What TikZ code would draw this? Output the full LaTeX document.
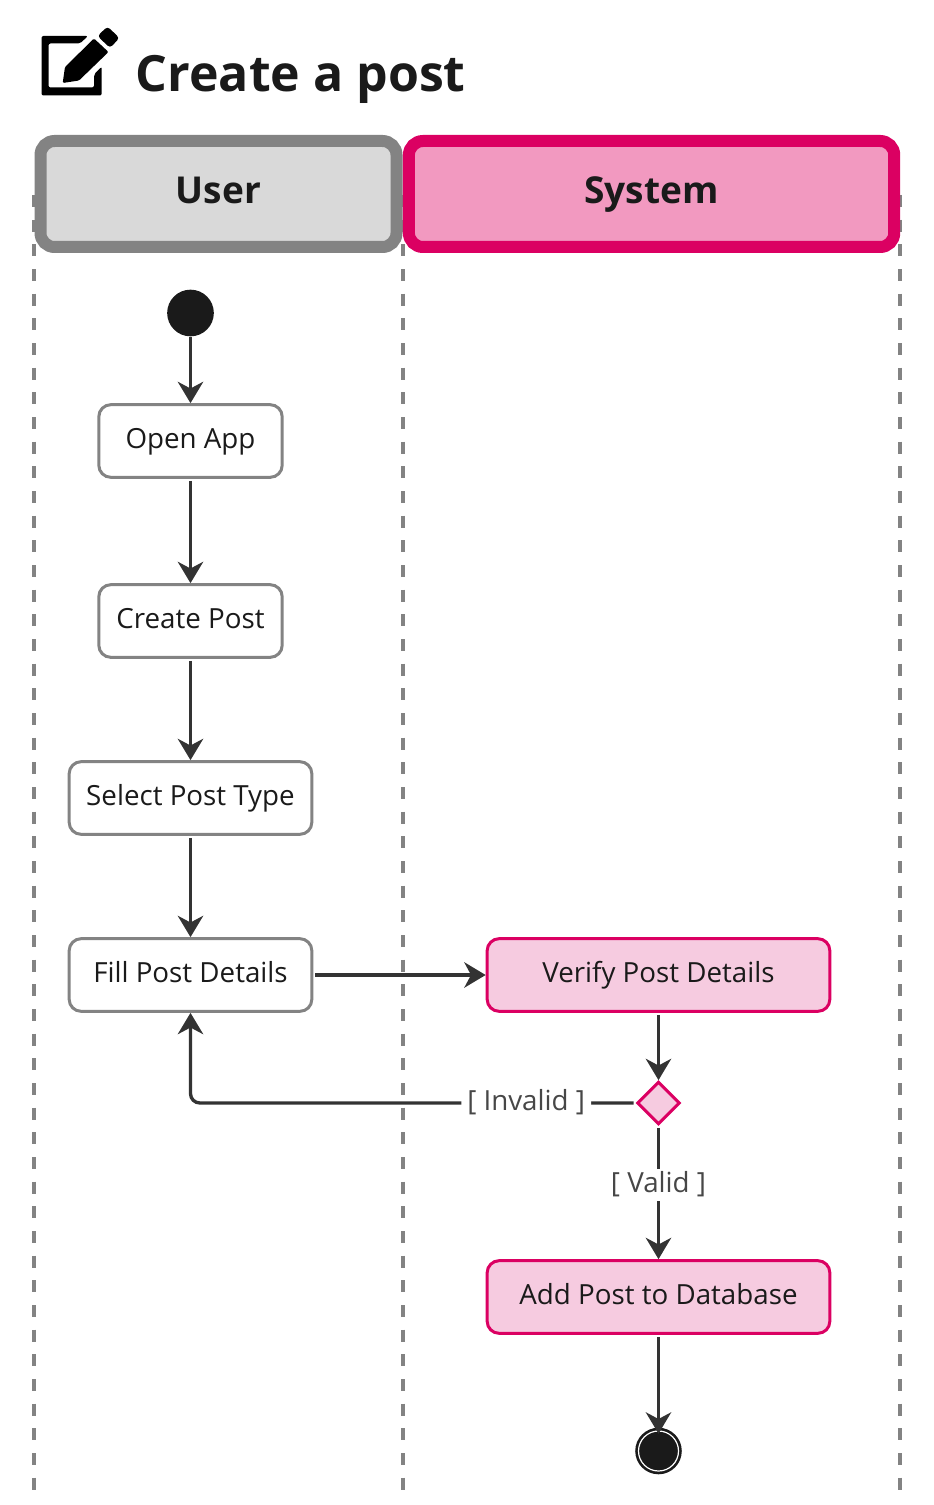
\documentclass[tikz,border=0pt]{standalone}
\usepackage{fontspec}
\setmainfont{Open Sans}
\usetikzlibrary{arrows.meta,shapes.geometric}

\definecolor{inkdark}{HTML}{1A1A1A}
\definecolor{flowgrey}{HTML}{333333}
\definecolor{lanegrey}{HTML}{838383}
\definecolor{usergrey}{HTML}{D9D9D9}
\definecolor{syspink}{HTML}{DB0062}
\definecolor{syshead}{HTML}{F299C0}
\definecolor{syslight}{HTML}{F6CBE0}

\tikzset{
  lane/.style={draw=lanegrey, line width=2.5pt, dash pattern=on 9pt off 9.5pt},
  head/.style={line width=9pt, rounded corners=10.5pt, minimum height=79.5pt, inner sep=0pt,
    text=inkdark, font=\fontsize{27.8}{32}\selectfont\bfseries, text height=20pt, text depth=5pt},
  userbox/.style={draw=lanegrey, fill=white, line width=2.25pt, rounded corners=9pt,
    minimum height=54.5pt, inner sep=0pt, text=inkdark, font=\fontsize{20.8}{25}\selectfont,
    text height=16.9pt, text depth=5pt},
  sysbox/.style={userbox, draw=syspink, fill=syslight, minimum width=257pt},
  guard/.style={fill=white, text=flowgrey!90!white, inner xsep=4.5pt, inner ysep=0pt,
    font=\fontsize{20.8}{25}\selectfont, text height=17.5pt, text depth=6.5pt},
  flow/.style={->, draw=flowgrey, line width=2.5pt, shorten <=1.5pt}
}

\begin{document}
\begin{tikzpicture}[x=0.75pt, y=-0.75pt, >={Stealth[length=16pt,width=19pt,inset=5pt]}]
    \useasboundingbox (0,0) rectangle (934,1505);

    %% Lanes
    \draw [lane] (34,195) -- (34,1490);
    \draw [lane] (403,195) -- (403,1490);
    \draw [lane] (900,195) -- (900,1490);

    %% Title
    \fill [even odd rule, rounded corners=1.5pt] (41.5,36) -- (88,36) -- (80,43.5) -- (48.5,43.5) -- (48.5,87.5) -- (94,87.5) -- (94,74.5) -- (101.7,66.7) -- (101.7,95.5) -- (41.5,95.5) -- cycle;
    \fill [rounded corners=1pt] (65,67) -- (94,38.5) -- (108.5,52) -- (79,80.5) -- (62.7,83) -- cycle;
    \fill [rounded corners=2.5pt] (97.5,36) -- (107.5,26.5) -- (119.5,38) -- (110,48) -- cycle;
    \node (title) at (135.5,92) [anchor=base west, inner sep=0pt, text=inkdark, font=\fontsize{37.5}{42}\selectfont\bfseries] {Create a post};

    %% Headers
    \node (user) at (218.5,194) [head, draw=lanegrey, fill=usergrey, minimum width=267pt] {User};
    \node (system) at (user) [xshift=324.8pt, head, draw=syspink, fill=syshead, minimum width=364pt] {System};

    %% User lane
    \node (start) at (190.5,313) [circle, fill=inkdark, minimum size=35pt, inner sep=0pt] {};
    \node (open) at (start) [yshift=-96pt, userbox, minimum width=137.5pt] {Open App};
    \node (create) at (open) [yshift=-135pt, userbox, minimum width=137.5pt] {Create Post};
    \node (select) at (create) [yshift=-132.75pt, userbox, minimum width=182pt] {Select Post Type};
    \node (fill) at (select) [yshift=-132.75pt, userbox, minimum width=182pt] {Fill Post Details};

    %% System lane
    \node (verify) at (fill) [xshift=351pt, sysbox] {Verify Post Details};
    \node (check) at (verify) [yshift=-96pt, diamond, draw=syspink, fill=syslight, line width=2.25pt, minimum size=32pt, inner sep=0pt] {};
    \node (add) at (verify) [yshift=-241.5pt, sysbox] {Add Post to Database};
    \node (end) at (add) [yshift=-115.5pt, circle, draw=inkdark, fill=inkdark, line width=2pt, double=white, double distance=0.9pt, minimum size=30pt, inner sep=0pt] {};

    %% Arrows
    \draw [flow, shorten <=0pt] (start) -- (open);
    \draw [flow] (open) -- (create);
    \draw [flow] (create) -- (select);
    \draw [flow] (select) -- (fill);
    \draw [flow] (fill) -- (verify);
    \draw [flow] (verify) -- (check);
    \draw [flow, rounded corners=7pt] (check) -| (fill) node [guard, pos=0.123] (invalid) {[ Invalid ]};
    \draw [flow] (check) -- (add) node [guard, pos=0.444] (valid) {[ Valid ]};
    \draw [flow, shorten >=-3pt] (add) -- (end);
  \end{tikzpicture}
\end{document}
